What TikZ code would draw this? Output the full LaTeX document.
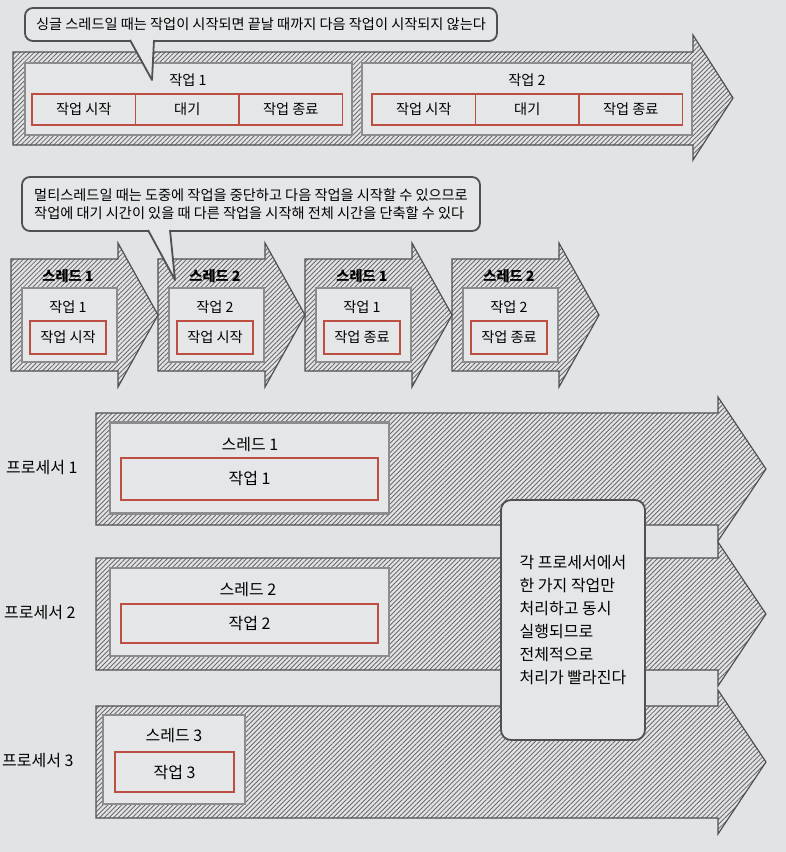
\documentclass[tikz,border=0pt]{standalone}
\usepackage{fontspec}
\setmainfont{Noto Sans CJK KR}
\usetikzlibrary{patterns.meta,positioning}
\definecolor{bgcol}{RGB}{226,227,229}
\definecolor{boxfill}{RGB}{229,230,232}
\definecolor{linecol}{RGB}{80,80,82}
\definecolor{hatchcol}{RGB}{105,105,107}
\definecolor{boxline}{RGB}{140,140,142}
\definecolor{redcol}{RGB}{188,78,66}
\begin{document}
\begin{tikzpicture}[x=1pt,y=-1pt,
    hatch/.style={draw=linecol, line width=1.2pt, line join=miter,
      pattern={Lines[angle=45,distance=3.3pt,line width=0.85pt]}, pattern color=hatchcol},
    inbox/.style={draw=boxline, line width=2.5pt, fill=boxfill, inner sep=0pt, outer sep=0pt},
    cell/.style={draw=redcol, line width=1.8pt, fill=boxfill, inner sep=0pt, outer sep=0pt,
      font=\fontsize{14.2}{16}\selectfont},
    bubble/.style={draw=linecol, line width=1.8pt, fill=boxfill, rounded corners=8pt, inner sep=0pt},
    tail/.style={draw=linecol, line width=1.8pt, fill=boxfill, line join=round},
    lbl/.style={font=\fontsize{14.2}{16}\selectfont, inner sep=0pt},
    biglbl/.style={font=\fontsize{16}{18}\selectfont, inner sep=0pt}]
  \fill[bgcol] (0,0) rectangle (786,852);
  \useasboundingbox (0,0) rectangle (786,852);

  \draw[hatch] (13,52) -- (693,52) -- (693,35) -- (733,98) -- (693,160) -- (693,145) -- (13,145) -- cycle;
  \node[inbox, minimum width=327pt, minimum height=72pt] (w1) at (188.5,99) {};
  \node[inbox, minimum width=330pt, minimum height=72pt] (w2) at (527,99) {};
  \node[lbl] (w1t) at (188,80) {작업 1};
  \node[lbl] (w2t) at (527,80) {작업 2};
  \begin{scope}[every node/.style={cell, minimum width=103.5pt, minimum height=31pt}]
    \node[anchor=west] (c11) at (32,109.5) {작업 시작};
    \node[right=0pt of c11] (c12) {대기};
    \node[right=0pt of c12] (c13) {작업 종료};
    \node[anchor=west] (c21) at (372,109.5) {작업 시작};
    \node[right=0pt of c21] (c22) {대기};
    \node[right=0pt of c22] (c23) {작업 종료};
  \end{scope}
  \node[bubble, minimum width=472pt, minimum height=33pt, font=\fontsize{14.2}{16}\selectfont]
    (b1) at (261,24.5) {싱글 스레드일 때는 작업이 시작되면 끝날 때까지 다음 작업이 시작되지 않는다};
  \draw[tail] (130,40) -- (152,80) -- (154,40);

  \draw[hatch] (11,259) -- (118,259) -- (118,243) -- (158,315) -- (118,387) -- (118,371) -- (11,371) -- cycle;
  \draw[hatch] (158,259) -- (265,259) -- (265,243) -- (305,315) -- (265,387) -- (265,371) -- (158,371) -- cycle;
  \draw[hatch] (305,259) -- (412,259) -- (412,243) -- (452,315) -- (412,387) -- (412,371) -- (305,371) -- cycle;
  \draw[hatch] (452,259) -- (559,259) -- (559,243) -- (599,315) -- (559,387) -- (559,371) -- (452,371) -- cycle;
  \begin{scope}[every node/.style={inbox, minimum width=95pt, minimum height=74pt}]
    \node (t1) at (69.5,325) {};
    \node (t2) at (216.5,325) {};
    \node (t3) at (363.5,325) {};
    \node (t4) at (510.5,325) {};
  \end{scope}
  \begin{scope}[every node/.style={lbl, font=\fontsize{14.2}{16}\selectfont\bfseries}]
    \node (t1h) at (68,276) {스레드 1};
    \node (t2h) at (215,276) {스레드 2};
    \node (t3h) at (362,276) {스레드 1};
    \node (t4h) at (509,276) {스레드 2};
  \end{scope}
  \begin{scope}[every node/.style={lbl}]
    \node (t1w) at (68,307) {작업 1};
    \node (t2w) at (215,307) {작업 2};
    \node (t3w) at (362,307) {작업 1};
    \node (t4w) at (509,307) {작업 2};
  \end{scope}
  \begin{scope}[every node/.style={cell, minimum width=76pt, minimum height=33pt}]
    \node (t1c) at (68,337.5) {작업 시작};
    \node (t2c) at (215,337.5) {작업 시작};
    \node (t3c) at (362,337.5) {작업 종료};
    \node (t4c) at (509,337.5) {작업 종료};
  \end{scope}
  \node[bubble, minimum width=458pt, minimum height=54pt, align=left,
    font=\fontsize{14.2}{18.5}\selectfont] (b2) at (251,204)
    {멀티스레드일 때는 도중에 작업을 중단하고 다음 작업을 시작할 수 있으므로\\
     작업에 대기 시간이 있을 때 다른 작업을 시작해 전체 시간을 단축할 수 있다};
  \draw[tail] (148,230) -- (175,280) -- (170,230);

  \draw[hatch] (96,413) -- (718,413) -- (718,397) -- (766,469) -- (718,541) -- (718,525) -- (96,525) -- cycle;
  \draw[hatch] (96,558) -- (718,558) -- (718,542) -- (766,614) -- (718,686) -- (718,670) -- (96,670) -- cycle;
  \draw[hatch] (96,706) -- (718,706) -- (718,690) -- (766,762) -- (718,834) -- (718,818) -- (96,818) -- cycle;
  \node[inbox, minimum width=279pt, minimum height=91pt] (p1) at (249.5,468) {};
  \node[inbox, minimum width=279pt, minimum height=88pt] (p2) at (249.5,612) {};
  \node[inbox, minimum width=142pt, minimum height=89pt] (p3) at (174,759.5) {};
  \node[biglbl] (p1h) at (250,445) {스레드 1};
  \node[biglbl] (p2h) at (248,589) {스레드 2};
  \node[biglbl] (p3h) at (174,735) {스레드 3};
  \node[cell, minimum width=257pt, minimum height=42pt, font=\fontsize{16}{18}\selectfont] (p1c) at (249.5,479) {작업 1};
  \node[cell, minimum width=257pt, minimum height=39pt, font=\fontsize{16}{18}\selectfont] (p2c) at (249.5,623.5) {작업 2};
  \node[cell, minimum width=119pt, minimum height=40pt, font=\fontsize{16}{18}\selectfont] (p3c) at (174.5,772) {작업 3};
  \node[biglbl, anchor=west] (r1) at (6,468) {프로세서 1};
  \node[biglbl, anchor=west] (r2) at (4,613) {프로세서 2};
  \node[biglbl, anchor=west] (r3) at (2,761) {프로세서 3};
  \node[draw=linecol, line width=1.8pt, fill=boxfill, rounded corners=10pt,
    minimum width=144pt, minimum height=240pt, align=left, inner sep=0pt,
    font=\fontsize{16}{23}\selectfont] (note) at (573,620)
    {각 프로세서에서\\한 가지 작업만\\처리하고 동시\\실행되므로\\전체적으로\\처리가 빨라진다};
\end{tikzpicture}
\end{document}
